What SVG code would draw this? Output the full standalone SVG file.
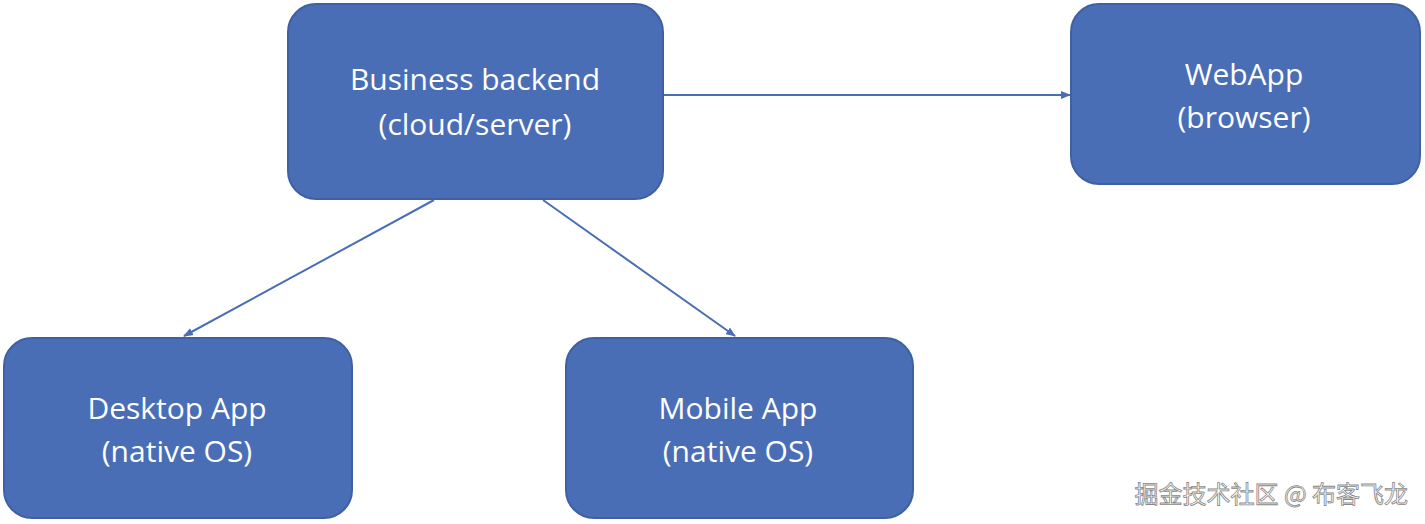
<svg xmlns="http://www.w3.org/2000/svg" width="1425" height="524" viewBox="0 0 1425 524">
<style>
.box{fill:#4a6eb5;stroke:#3f61a3;stroke-width:2}
.t{font-family:"Open Sans","Liberation Sans",sans-serif;font-size:30px;fill:#fff;text-anchor:middle}
.c{stroke:#4a6eb5;stroke-width:2;fill:none;marker-end:url(#a)}
.w{font-family:"Noto Sans CJK SC",sans-serif;font-size:24px;fill:#fff;stroke:#888;stroke-width:0.8;text-anchor:end}
</style>
<defs><marker id="a" markerWidth="10" markerHeight="8" refX="9" refY="4" orient="auto" markerUnits="userSpaceOnUse"><path d="M0,0L10,4L0,8z" fill="#4a6eb5"/></marker></defs>
<rect width="1425" height="524" fill="#fff"/>
<g id="backend"><rect class="box" x="288" y="4" width="375" height="195" rx="28"/><text class="t" x="475" y="90">Business backend</text><text class="t" x="475" y="135">(cloud/server)</text></g>
<g id="webapp"><rect class="box" x="1071" y="4" width="349" height="180" rx="28"/><text class="t" x="1244" y="85">WebApp</text><text class="t" x="1244" y="128">(browser)</text></g>
<g id="desktop"><rect class="box" x="4" y="338" width="348" height="180" rx="28"/><text class="t" x="177" y="419">Desktop App</text><text class="t" x="177" y="462">(native OS)</text></g>
<g id="mobile"><rect class="box" x="566" y="338" width="347" height="180" rx="28"/><text class="t" x="738" y="419">Mobile App</text><text class="t" x="738" y="462">(native OS)</text></g>
<g id="connectors">
<line class="c" x1="664" y1="95" x2="1070" y2="95"/>
<line class="c" x1="434" y1="200" x2="184" y2="336"/>
<line class="c" x1="543" y1="200" x2="735" y2="336"/>
</g>
<text class="w" x="1408" y="503">掘金技术社区 @ 布客飞龙</text>
</svg>
